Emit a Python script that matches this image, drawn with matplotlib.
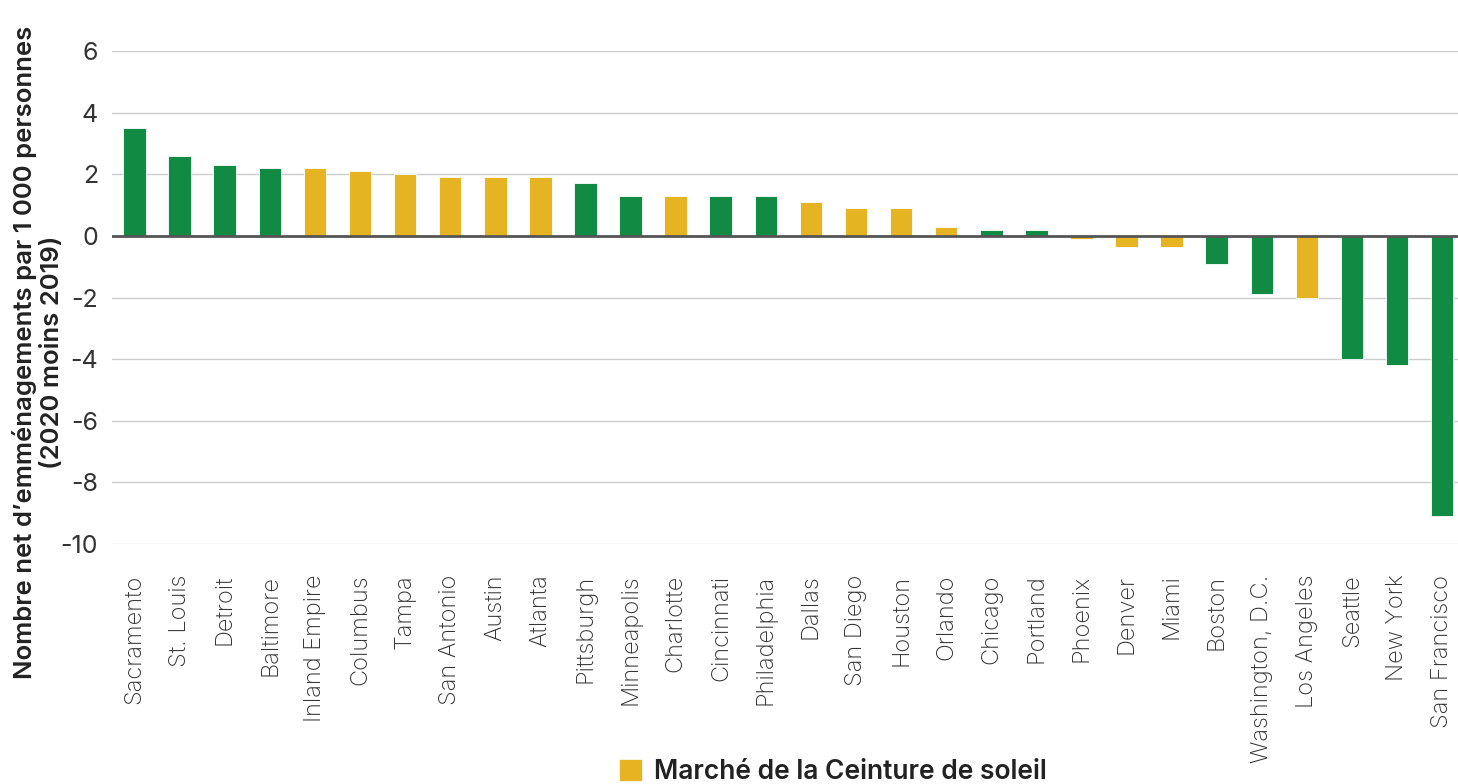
import numpy as np
import matplotlib.pyplot as plt
from matplotlib.patches import Patch

plt.rcParams['font.family'] = ['Inter', 'DejaVu Sans']
plt.rcParams['axes.unicode_minus'] = False

cities = ["Sacramento", "St. Louis", "Detroit", "Baltimore", "Inland Empire",
          "Columbus", "Tampa", "San Antonio", "Austin", "Atlanta", "Pittsburgh",
          "Minneapolis", "Charlotte", "Cincinnati", "Philadelphia", "Dallas",
          "San Diego", "Houston", "Orlando", "Chicago", "Portland", "Phoenix",
          "Denver", "Miami", "Boston", "Washington, D.C.", "Los Angeles",
          "Seattle", "New York", "San Francisco"]
values = [3.5, 2.6, 2.3, 2.2, 2.2, 2.1, 2.0, 1.9, 1.9, 1.9, 1.7, 1.3, 1.3, 1.3,
          1.3, 1.1, 0.9, 0.9, 0.3, 0.2, 0.2, -0.1, -0.35, -0.35, -0.9, -1.9,
          -2.0, -4.0, -4.2, -9.1]
sunbelt = [False, False, False, False, True, True, True, True, True, True,
           False, False, True, False, False, True, True, True, True, False,
           False, True, True, True, False, False, True, False, False, False]

green = "#118a43"
yellow = "#e6b422"
colors = [yellow if s else green for s in sunbelt]

fig = plt.figure(figsize=(14.58, 7.84), dpi=100)
ax = fig.add_axes([0.0768, 0.306, 0.9232, 0.629])

x = np.arange(len(cities))
ax.bar(x, values, width=0.5, color=colors, edgecolor="#ffffff", linewidth=0.6,
       zorder=3)
ax.axhline(0, color="#555555", lw=2, zorder=4)

ax.set_ylim(-10, 6)
ax.set_xlim(-0.5, 29.35)
ax.set_yticks(np.arange(-10, 7, 2))
ax.yaxis.grid(True, color="#cccccc", lw=1, zorder=0)
ax.tick_params(axis="y", length=0, pad=10, labelsize=18, labelcolor="#333333")
ax.set_xticks(x)
ax.set_xticklabels(cities, rotation=90, fontsize=17, color="#333333",
                   fontweight="light")
ax.tick_params(axis="x", length=0, pad=22)
for s in ax.spines.values():
    s.set_visible(False)

fig.text(0.026, 0.55, "Nombre net d\u2019emménagements par 1 000 personnes\n(2020 moins 2019)",
         rotation=90, ha="center", va="center", multialignment="center",
         fontsize=18.5, fontweight="semibold", color="#222222", linespacing=1.2)

fig.legend(handles=[Patch(color=yellow, label="Marché de la Ceinture de soleil")],
           loc="center left", bbox_to_anchor=(0.425, 0.015), frameon=False,
           handlelength=0.8, handleheight=0.8, handletextpad=0.5,
           borderaxespad=0, borderpad=0,
           prop={"size": 19, "weight": "semibold"}, labelcolor="#222222")

fig.savefig("out.png", dpi=100)
